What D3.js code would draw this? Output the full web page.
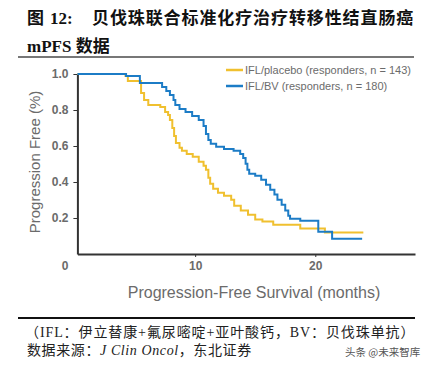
<!DOCTYPE html>
<html>
<head>
<meta charset="utf-8">
<script src="https://cdn.jsdelivr.net/npm/d3@7"></script>
<style>
  body { margin: 0; background: #fff; }
  svg { display: block; }
</style>
</head>
<body>
<svg id="chart" width="435" height="374"></svg>
<script>
// Kaplan-Meier steps: time (months) and survival after each drop
const placeboTimes = [0.2, 4.2, 4.4, 5.5, 5.75, 6.1, 7.1, 7.5, 7.75, 7.9, 8.1, 8.25, 8.4, 8.7, 8.9, 9.3, 9.8, 10.3, 10.7, 10.9, 11.1, 11.25, 11.5, 11.9, 12.4, 13.0, 13.25, 13.8, 14.4, 15.0, 15.6, 16.5, 18.75, 20.8, 24.0]
const placeboSurv = [1.0, 0.989, 0.961, 0.894, 0.856, 0.828, 0.817, 0.789, 0.772, 0.745, 0.7, 0.656, 0.617, 0.59, 0.573, 0.556, 0.54, 0.512, 0.49, 0.468, 0.424, 0.39, 0.362, 0.34, 0.323, 0.302, 0.268, 0.241, 0.218, 0.191, 0.18, 0.163, 0.141, 0.119, 0.119]

const bvTimes = [0.2, 4.25, 5.4, 7.25, 7.6, 7.9, 8.2, 8.35, 8.7, 9.2, 9.75, 10.3, 10.7, 10.9, 11.1, 11.3, 11.75, 12.4, 13.2, 13.75, 14.0, 14.2, 14.35, 14.5, 15.0, 15.5, 15.9, 16.25, 16.6, 16.85, 17.2, 17.5, 17.75, 17.9, 18.75, 20.25, 21.4, 23.9]
const bvSurv = [1.0, 0.989, 0.95, 0.928, 0.906, 0.883, 0.856, 0.828, 0.806, 0.789, 0.767, 0.745, 0.711, 0.667, 0.634, 0.612, 0.596, 0.584, 0.573, 0.556, 0.534, 0.501, 0.468, 0.446, 0.435, 0.412, 0.385, 0.357, 0.33, 0.302, 0.274, 0.241, 0.213, 0.196, 0.185, 0.124, 0.085, 0.085]

const seriesNames = ['IFL/placebo (responders, n = 143)', 'IFL/BV (responders, n = 180)']
const seriesColors = ['#f0c02f', '#1c7cc6']
const xTicks = [0, 10, 20]
const yTicks = [0.2, 0.4, 0.6, 0.8, 1.0]

const svg = d3.select('#chart')
const grey = '#6b6b6b'

svg.append('rect').attr('width', 435).attr('height', 374).attr('fill', '#fff')

// title block
const title = svg.append('text')
  .attr('y', 24)
  .style('font-family', '"Noto Sans CJK SC", sans-serif')
  .style('font-weight', 700)
  .style('font-size', '17px')
  .attr('fill', '#111')
title.append('tspan').attr('x', 27).text('图')
title.append('tspan').attr('x', 50)
  .style('font-family', '"Liberation Serif", serif').text('12:')
title.append('tspan').attr('x', 92).style('letter-spacing', '0.9px')
  .text('贝伐珠联合标准化疗治疗转移性结直肠癌')

const title2 = svg.append('text')
  .attr('x', 27).attr('y', 52)
  .style('font-weight', 700)
  .style('font-size', '17px')
  .attr('fill', '#111')
title2.append('tspan').style('font-family', '"Liberation Serif", serif').text('mPFS ')
title2.append('tspan').style('font-family', '"Noto Sans CJK SC", sans-serif').text('数据')

svg.append('line')
  .attr('x1', 18).attr('x2', 414).attr('y1', 57).attr('y2', 57)
  .attr('stroke', '#777').attr('stroke-width', 2)

// scales
const x = d3.scaleLinear().domain([0.2, 28.3]).range([77.4, 415])
const y = d3.scaleLinear().domain([0, 1]).range([254, 74])

// y axis
svg.append('g')
  .attr('transform', `translate(${x(0.2)},0)`)
  .call(d3.axisLeft(y).tickValues(yTicks).tickFormat(d3.format('.1f'))
    .tickSize(4).tickSizeOuter(0).tickPadding(5))
  .call(g => g.select('.domain').attr('stroke', '#333').attr('stroke-width', 2))
  .call(g => g.selectAll('.tick line').attr('stroke', '#333'))
  .selectAll('text')
  .style('font-family', '"Liberation Sans", Arial, sans-serif')
  .style('font-size', '12px')
  .style('font-weight', 700)
  .attr('fill', grey)

// x axis
const xAxis = svg.append('g')
  .attr('transform', `translate(0,${y(0)})`)
  .call(d3.axisBottom(x).tickValues(xTicks.filter(d => d > 0)).tickFormat(d3.format('d'))
    .tickSize(3).tickSizeOuter(0).tickPadding(4))
xAxis.select('.domain').attr('stroke', '#333').attr('stroke-width', 2)
xAxis.selectAll('.tick line').attr('stroke', '#333')
xAxis.selectAll('text')
  .style('font-family', '"Liberation Sans", Arial, sans-serif')
  .style('font-size', '12px')
  .style('font-weight', 700)
  .attr('fill', grey)

// the zero sits at the corner, left of the y axis
svg.append('text')
  .attr('x', x(0) - 10).attr('y', y(0) + 16)
  .attr('text-anchor', 'middle')
  .style('font-family', '"Liberation Sans", Arial, sans-serif')
  .style('font-size', '12px')
  .style('font-weight', 700)
  .attr('fill', grey)
  .text(xTicks[0])

// axis titles
svg.append('text')
  .attr('transform', 'translate(40,162) rotate(-90)')
  .attr('text-anchor', 'middle')
  .style('font-family', '"Liberation Sans", Arial, sans-serif')
  .style('font-size', '15px')
  .attr('fill', grey)
  .text('Progression Free (%)')

svg.append('text')
  .attr('x', 254).attr('y', 298)
  .attr('text-anchor', 'middle')
  .style('font-family', '"Liberation Sans", Arial, sans-serif')
  .style('font-size', '16px')
  .attr('fill', grey)
  .text('Progression-Free Survival (months)')

// survival curves
const line = d3.line()
  .x(d => x(d[0]))
  .y(d => y(d[1]))
  .curve(d3.curveStepAfter)

const series = [
  d3.zip(placeboTimes, placeboSurv),
  d3.zip(bvTimes, bvSurv)
]

svg.append('g')
  .selectAll('path')
  .data(series)
  .enter()
  .append('path')
  .attr('d', line)
  .attr('fill', 'none')
  .attr('stroke', (d, i) => seriesColors[i])
  .attr('stroke-width', 2)

// legend
const legend = svg.append('g')
  .selectAll('g')
  .data(seriesNames)
  .enter()
  .append('g')
  .attr('transform', (d, i) => `translate(226,${70 + i * 16})`)
legend.append('line')
  .attr('x1', 0).attr('x2', 17)
  .attr('stroke', (d, i) => seriesColors[i])
  .attr('stroke-width', 2.5)
legend.append('text')
  .attr('x', 19).attr('y', 4)
  .style('font-family', '"Liberation Sans", Arial, sans-serif')
  .style('font-size', '11px')
  .attr('fill', grey)
  .text(d => d)

// footer
svg.append('line')
  .attr('x1', 18).attr('x2', 415).attr('y1', 318).attr('y2', 318)
  .attr('stroke', '#111').attr('stroke-width', 2)

svg.append('text')
  .attr('x', 25).attr('y', 337)
  .style('font-family', '"Liberation Serif", "Noto Sans CJK SC", serif')
  .style('font-size', '14px')
  .style('letter-spacing', '0.9px')
  .attr('fill', '#222')
  .text('（IFL：伊立替康+氟尿嘧啶+亚叶酸钙，BV：贝伐珠单抗）')

const source = svg.append('text')
  .attr('x', 27).attr('y', 355)
  .style('font-family', '"Liberation Serif", "Noto Sans CJK SC", serif')
  .style('font-size', '14px')
  .style('letter-spacing', '0.6px')
  .attr('fill', '#222')
source.append('tspan').text('数据来源：')
source.append('tspan').style('font-style', 'italic').text('J Clin Oncol')
source.append('tspan').text('，东北证券')

svg.append('text')
  .attr('x', 345).attr('y', 356)
  .style('font-family', '"Noto Sans CJK SC", sans-serif')
  .style('font-size', '10.5px')
  .attr('fill', '#555')
  .text('头条 @未来智库')
</script>
</body>
</html>
